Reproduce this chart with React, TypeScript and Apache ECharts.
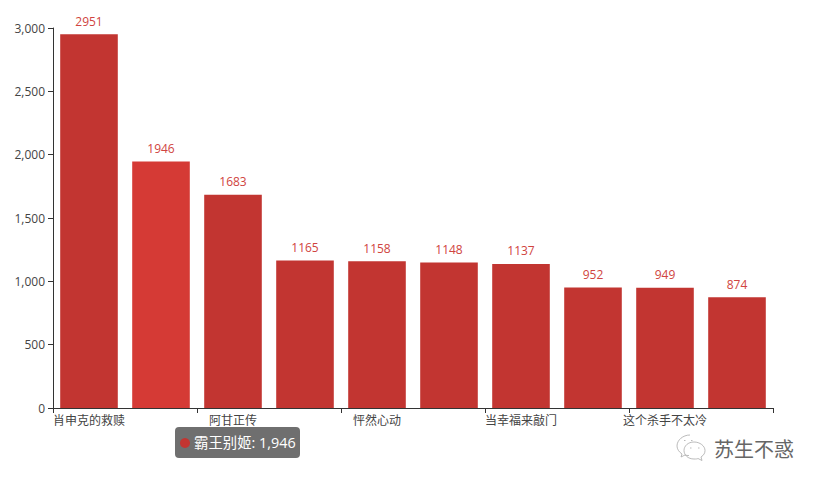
import React, { useEffect, useRef } from "react";
import * as echarts from "echarts";

const categories = ["肖申克的救赎", "霸王别姬", "阿甘正传", "", "怦然心动", "", "当幸福来敲门", "", "这个杀手不太冷", ""];
const values = [2951, 1946, 1683, 1165, 1158, 1148, 1137, 952, 949, 874];
const highlightedIndex = 1;
const tooltipText = "霸王别姬: 1,946";
const watermarkText = "苏生不惑";

const FONT = '"Open Sans", "Noto Sans CJK SC", sans-serif';

echarts.graphic.registerShape(
  "wechatIcon",
  echarts.graphic.extendPath(
    "M14 1C7 1 1 6 1 12c0 3 2 6 5 8l-1 3 4-2c1 .5 3 .5 4 .5M18 8c-6 0-10 4-10 8.500s4 8.500 10 8.500c2 0 3 0 4-.5l4 2-1-3.500c3-2 4-4 4-6.500 0-4.500-5-8.500-11-8.500zM8 6.500h1.500M15 6.500h1.500M14 14h1.500M22 14h1.500",
    {}
  )
);

export default function App() {
  const ref = useRef<HTMLDivElement>(null);
  useEffect(() => {
    const chart = echarts.init(ref.current!, null, { renderer: "svg" });
    chart.setOption({
      animation: false,
      grid: { left: 53, right: 47, top: 28, bottom: 76 },
      xAxis: {
        type: "category",
        data: categories,
        axisLine: { lineStyle: { color: "#333" } },
        axisTick: { show: true, length: 5, interval: 1, lineStyle: { color: "#333" } },
        axisLabel: { interval: 1, color: "#444", fontSize: 12, margin: 6, fontFamily: FONT, hideOverlap: false },
      },
      yAxis: {
        type: "value",
        min: 0,
        max: 3000,
        interval: 500,
        splitLine: { show: false },
        axisLine: { show: true, lineStyle: { color: "#333" } },
        axisTick: { show: true, length: 5, lineStyle: { color: "#333" } },
        axisLabel: { color: "#444", fontSize: 12, margin: 8, fontFamily: FONT, padding: [0, 0, 4, 0] },
      },
      series: [
        {
          type: "bar",
          barCategoryGap: "20%",
          data: values.map((v, i) =>
            i === highlightedIndex ? { value: v, itemStyle: { color: "#d53a35" } } : v
          ),
          itemStyle: { color: "#c23531" },
          label: { show: true, position: "top", distance: 7, color: "#d04440", fontSize: 12, fontFamily: FONT },
        },
      ],
      graphic: [
        { type: "rect", shape: { x: 175, y: 427, width: 125, height: 31, r: 4 }, style: { fill: "rgba(50,50,50,0.7)" } },
        { type: "circle", shape: { cx: 185, cy: 443, r: 5 }, style: { fill: "#c23531" } },
        { type: "text", x: 194, y: 442, style: { text: tooltipText, fill: "#fff", fontSize: 14.4, fontFamily: FONT, verticalAlign: "middle" } },
        { type: "wechatIcon", x: 676, y: 434, style: { fill: "none", stroke: "#aaa", lineWidth: 0.8 } },
        { type: "text", x: 714, y: 449, style: { text: watermarkText, fill: "#666", fontSize: 20, fontFamily: FONT, verticalAlign: "middle" } },
      ],
    });
    return () => chart.dispose();
  }, []);
  return <div ref={ref} style={{ width: 820, height: 484, position: "absolute", left: 0, top: 0 }} />;
}
